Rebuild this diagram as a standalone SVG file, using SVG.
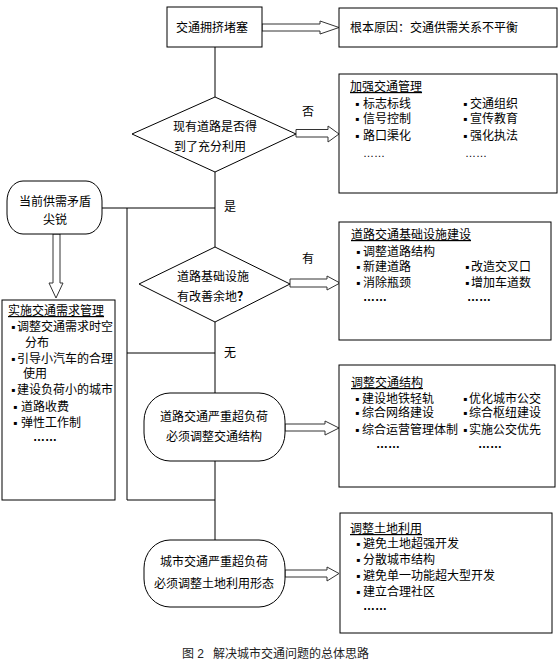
<svg xmlns="http://www.w3.org/2000/svg" width="560" height="665" viewBox="0 0 560 665">
<style>
text{font-family:"Liberation Sans","Noto Sans CJK SC",sans-serif;font-size:12px;fill:#000}
.c{text-anchor:middle}
.u{text-decoration:underline}
.b{font-weight:bold}
.box{fill:#fff;stroke:#000;stroke-width:1}
.ln{fill:none;stroke:#000;stroke-width:1}
.ar{fill:#fff;stroke:#333;stroke-width:1}
.cap{fill:#222}
</style>
<rect width="560" height="665" fill="#fff"/>
<g id="connectors">
<path class="ln" d="M215,47V97M215,172V247M215,322V393M215,461V540"/>
<path class="ln" d="M102,208H215M127,208V500M127,353H215M127,500H215"/>
<polygon class="ar" points="262,24 320,24 320,21 339,27.5 320,34 320,31 262,31"/>
<polygon class="ar" points="296,129.5 328,129.5 328,126 339,134 328,142 328,137 296,137"/>
<polygon class="ar" points="290,279 327,279 327,276 340,283 327,290 327,287 290,287"/>
<polygon class="ar" points="285,424 325,424 325,421 339,428 325,435 325,431 285,431"/>
<polygon class="ar" points="285,570 327,570 327,567 339,573.5 327,581 327,577 285,577"/>
<polygon class="ar" points="53,234 53,283 49,283 56,298 63,283 60,283 60,234"/>
<text x="302" y="116">否</text>
<text x="224" y="211">是</text>
<text x="302" y="263">有</text>
<text x="224" y="357">无</text>
</g>
<g id="n-jam">
<rect class="box" x="167" y="7" width="95" height="40"/>
<text x="176" y="32">交通拥挤堵塞</text>
</g>
<g id="n-cause">
<rect class="box" x="339" y="8" width="218" height="39"/>
<text x="350" y="32">根本原因：交通供需关系不平衡</text>
</g>
<g id="n-q1">
<polygon class="box" points="215,97 296,134 215,172 132,134"/>
<text x="173" y="131">现有道路是否得</text>
<text x="174" y="151">到了充分利用</text>
</g>
<g id="n-mgmt">
<rect class="box" x="339" y="74" width="218" height="119"/>
<text x="350" y="91" class="u">加强交通管理</text>
<text y="108"><tspan x="355">▪</tspan><tspan x="363">标志标线</tspan><tspan x="463">▪</tspan><tspan x="470">交通组织</tspan></text>
<text y="123"><tspan x="355">▪</tspan><tspan x="363">信号控制</tspan><tspan x="463">▪</tspan><tspan x="470">宣传教育</tspan></text>
<text y="140"><tspan x="355">▪</tspan><tspan x="363">路口渠化</tspan><tspan x="463">▪</tspan><tspan x="470">强化执法</tspan></text>
<text y="157" style="font-size:11px"><tspan x="363">……</tspan><tspan x="465">……</tspan></text>
</g>
<g id="n-sharp">
<rect class="box" x="7" y="181" width="95" height="53" rx="16" ry="20"/>
<text x="55" y="206" class="c">当前供需矛盾</text>
<text x="55" y="224" class="c">尖锐</text>
</g>
<g id="n-tdm">
<rect class="box" x="2" y="300" width="113" height="200"/>
<text x="8" y="315" class="u">实施交通需求管理</text>
<text y="331"><tspan x="11">▪</tspan><tspan x="17">调整交通需求时空</tspan></text>
<text x="25" y="347">分布</text>
<text y="363"><tspan x="11">▪</tspan><tspan x="17">引导小汽车的合理</tspan></text>
<text x="23" y="378">使用</text>
<text y="394"><tspan x="11">▪</tspan><tspan x="17">建设负荷小的城市</tspan></text>
<text y="411"><tspan x="13">▪</tspan><tspan x="21">道路收费</tspan></text>
<text y="427"><tspan x="13">▪</tspan><tspan x="21">弹性工作制</tspan></text>
<text x="33" y="441" class="b">……</text>
</g>
<g id="n-q2">
<polygon class="box" points="215,247 290,284 215,322 139,284"/>
<text x="177" y="281">道路基础设施</text>
<text x="177" y="301">有改善余地<tspan class="b">？</tspan></text>
</g>
<g id="n-infra">
<rect class="box" x="339" y="222" width="212" height="118"/>
<text x="351" y="239" class="u">道路交通基础设施建设</text>
<text y="256"><tspan x="356">▪</tspan><tspan x="363">调整道路结构</tspan></text>
<text y="271"><tspan x="356">▪</tspan><tspan x="363">新建道路</tspan><tspan x="465">▪</tspan><tspan x="471">改造交叉口</tspan></text>
<text y="287"><tspan x="356">▪</tspan><tspan x="363">消除瓶颈</tspan><tspan x="465">▪</tspan><tspan x="471">增加车道数</tspan></text>
<text y="301" class="b"><tspan x="363">……</tspan><tspan x="467">……</tspan></text>
</g>
<g id="n-over1">
<rect class="box" x="144" y="393" width="141" height="68" rx="26" ry="28"/>
<text x="214" y="421" class="c">道路交通严重超负荷</text>
<text x="214" y="441" class="c">必须调整交通结构</text>
</g>
<g id="n-struct">
<rect class="box" x="339" y="365" width="216" height="122"/>
<text x="351" y="387" class="u">调整交通结构</text>
<text y="403"><tspan x="355">▪</tspan><tspan x="362">建设地铁轻轨</tspan><tspan x="463">▪</tspan><tspan x="469">优化城市公交</tspan></text>
<text y="417"><tspan x="355">▪</tspan><tspan x="362">综合网络建设</tspan><tspan x="463">▪</tspan><tspan x="469">综合枢纽建设</tspan></text>
<text y="434"><tspan x="355">▪</tspan><tspan x="362">综合运营管理体制</tspan><tspan x="463">▪</tspan><tspan x="469">实施公交优先</tspan></text>
<text y="448" class="b"><tspan x="376">……</tspan><tspan x="478">……</tspan></text>
</g>
<g id="n-over2">
<rect class="box" x="144" y="540" width="141" height="67" rx="26" ry="28"/>
<text x="214" y="566" class="c">城市交通严重超负荷</text>
<text x="214" y="588" class="c">必须调整土地利用形态</text>
</g>
<g id="n-land">
<rect class="box" x="340" y="513" width="212" height="120"/>
<text x="350" y="533" class="u">调整土地利用</text>
<text y="548"><tspan x="356">▪</tspan><tspan x="363">避免土地超强开发</tspan></text>
<text y="564"><tspan x="356">▪</tspan><tspan x="363">分散城市结构</tspan></text>
<text y="580"><tspan x="356">▪</tspan><tspan x="363">避免单一功能超大型开发</tspan></text>
<text y="596"><tspan x="356">▪</tspan><tspan x="363">建立合理社区</tspan></text>
<text x="363" y="610" class="b">……</text>
</g>
<g id="caption">
<text y="658" class="cap"><tspan x="182">图 2</tspan><tspan x="213">解决城市交通问题的总体思路</tspan></text>
</g>
</svg>
